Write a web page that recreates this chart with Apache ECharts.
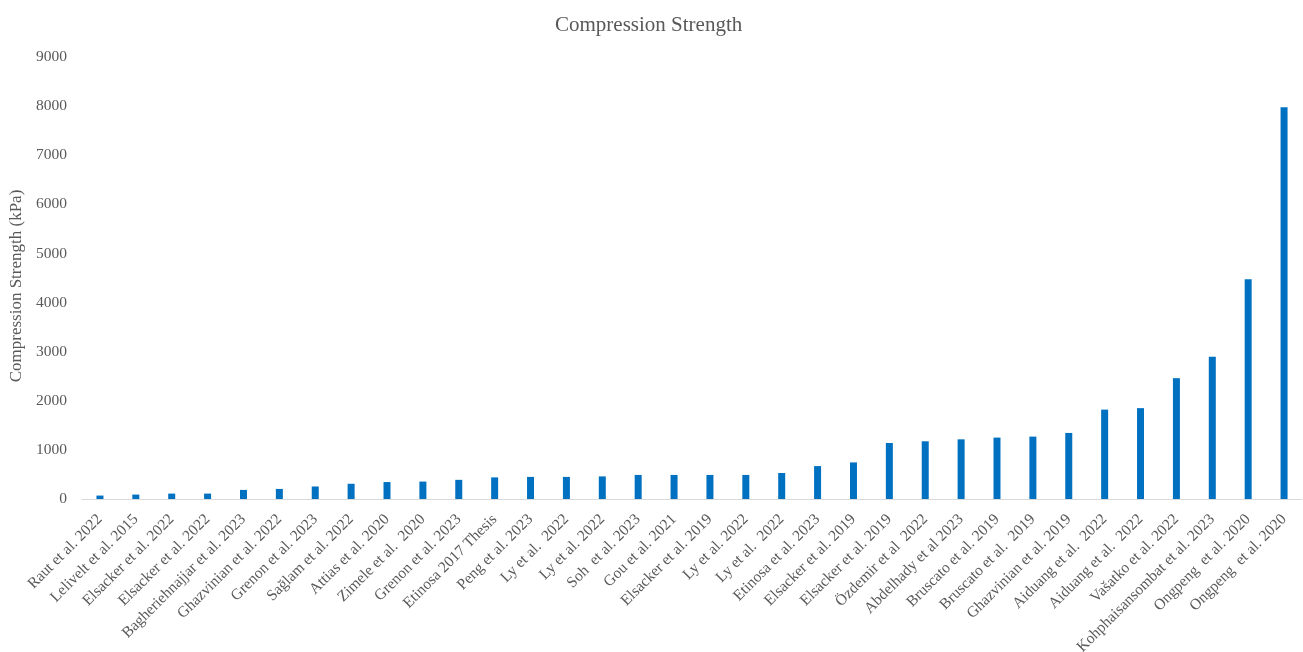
<!DOCTYPE html>
<html>
<head>
<meta charset="utf-8">
<script src="https://cdn.jsdelivr.net/npm/echarts@6/dist/echarts.min.js"></script>
<style>
  html, body { margin: 0; padding: 0; background: #fff; }
  #chart { width: 1303px; height: 652px; }
</style>
</head>
<body>
<div id="chart"></div>
<script>
// Studies, in ascending order of compression strength
const studies = [
  'Raut et al. 2022', 'Lelivelt et al. 2015', 'Elsacker et al. 2022', 'Elsacker et al. 2022',
  'Bagheriehnajjar et al. 2023', 'Ghazvinian et al. 2022', 'Grenon et al. 2023', 'Sağlam et al. 2022',
  'Attias et al. 2020', 'Zimele et al.  2020', 'Grenon et al. 2023', 'Etinosa 2017 Thesis',
  'Peng et al. 2023', 'Ly et al.  2022', 'Ly et al. 2022', 'Soh  et al. 2023',
  'Gou et al. 2021', 'Elsacker et al. 2019', 'Ly et al. 2022', 'Ly et al.  2022',
  'Etinosa et al. 2023', 'Elsacker et al. 2019', 'Elsacker et al. 2019', 'Özdemir et al  2022',
  'Abdelhady et al 2023', 'Bruscato et al. 2019', 'Bruscato et al.  2019', 'Ghazvinian et al. 2019',
  'Aiduang et al.  2022', 'Aiduang et al.  2022', 'Vašatko et al. 2022', 'Kohphaisansombat et al. 2023',
  'Ongpeng  et al. 2020', 'Ongpeng  et al. 2020'
];

// Compression strength (kPa)
const strength = [
  70, 90, 110, 110, 185, 205, 255, 310,
  345, 355, 390, 440, 450, 450, 460, 490,
  490, 490, 490, 530, 670, 745, 1140, 1175,
  1215, 1250, 1270, 1345, 1820, 1850, 2460, 2895,
  4475, 7975
];

// Value axis ticks
const yMin = 0, yMax = 9000, yStep = 1000;

const serif = '"Liberation Serif", "DejaVu Serif", serif';
const grey = '#595959';

const chart = echarts.init(document.getElementById('chart'));
chart.setOption({
  animation: false,
  backgroundColor: '#fff',
  title: {
    text: 'Compression Strength',
    left: 550,
    top: 10,
    textStyle: { fontFamily: serif, fontSize: 21, fontWeight: 'normal', color: grey }
  },
  grid: { left: 82, right: 1, top: 57, bottom: 153, containLabel: false, outerBoundsMode: 'none' },
  xAxis: {
    type: 'category',
    data: studies,
    axisLine: { lineStyle: { color: '#d9d9d9', width: 1 } },
    axisTick: { show: false },
    axisLabel: {
      interval: 0,
      rotate: 45,
      margin: 18,
      fontFamily: serif,
      fontSize: 15.5,
      color: grey
    }
  },
  yAxis: {
    type: 'value',
    min: yMin,
    max: yMax,
    interval: yStep,
    name: 'Compression Strength (kPa)',
    nameLocation: 'middle',
    nameGap: 54,
    nameTextStyle: { fontFamily: serif, fontSize: 17, color: grey, padding: [0, 16, 0, 0] },
    axisLine: { show: false },
    axisTick: { show: false },
    splitLine: { show: false },
    axisLabel: {
      fontFamily: serif, fontSize: 15.5, color: grey, margin: 15,
      formatter: v => String(v)
    }
  },
  series: [{
    type: 'bar',
    data: strength,
    barWidth: 7,
    itemStyle: { color: '#0070C0' }
  }]
});
</script>
</body>
</html>
